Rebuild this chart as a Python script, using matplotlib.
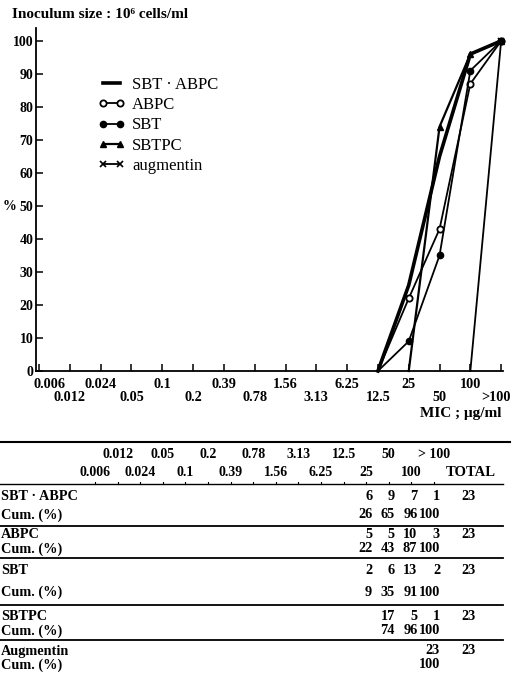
import matplotlib
matplotlib.use("Agg")
import matplotlib.pyplot as plt
import matplotlib.transforms as mtrans
from matplotlib.lines import Line2D

plt.rcParams['font.family'] = ['Liberation Serif', 'DejaVu Serif']

# MIC steps (ug/ml), 16 columns
mic_labels = ["0.006", "0.012", "0.024", "0.05", "0.1", "0.2", "0.39", "0.78",
              "1.56", "3.13", "6.25", "12.5", "25", "50", "100", ">100"]

# per drug: first MIC column with strains, counts and cumulative %
sbt_abpc_start = 12
sbt_abpc_n = [6, 9, 7, 1]
sbt_abpc_cum = [26, 65, 96, 100]

abpc_start = 12
abpc_n = [5, 5, 10, 3]
abpc_cum = [22, 43, 87, 100]

sbt_start = 12
sbt_n = [2, 6, 13, 2]
sbt_cum = [9, 35, 91, 100]

sbtpc_start = 13
sbtpc_n = [17, 5, 1]
sbtpc_cum = [74, 96, 100]

aug_start = 15
aug_n = [23]
aug_cum = [100]

totals = [23, 23, 23, 23, 23]
table_names = ["SBT \u00b7 ABPC", "ABPC", "SBT", "SBTPC", "Augmentin"]
legend_names = ["SBT \u00b7 ABPC", "ABPC", "SBT", "SBTPC", "augmentin"]

W, H = 512, 685
fig = plt.figure(figsize=(W / 100, H / 100), dpi=100)


def fx(px):
    return px / W


def fy(py):
    return 1 - py / H


# ---------------- chart ----------------
ax = fig.add_axes([fx(36), fy(371), fx(503) - fx(36), fy(28) - fy(371)])
ax.set_xlim(-0.1, 15.06)
ax.set_ylim(0, 103.9)
ax.spines['top'].set_visible(False)
ax.spines['right'].set_visible(False)
ax.spines['left'].set_linewidth(1.3)
ax.spines['bottom'].set_linewidth(1.3)


def curve(start, cum):
    xs = [start - 1] + list(range(start, start + len(cum)))
    ys = [0] + cum
    return xs, ys


series = [
    (sbt_abpc_start, sbt_abpc_cum, dict(lw=2.6, marker=None)),
    (abpc_start, abpc_cum, dict(lw=1.3, marker='o', mfc='white', ms=4.5, mew=1.3)),
    (sbt_start, sbt_cum, dict(lw=1.3, marker='o', mfc='black', ms=4.5)),
    (sbtpc_start, sbtpc_cum, dict(lw=1.6, marker='^', mfc='black', ms=4.5)),
    (aug_start, aug_cum, dict(lw=1.3, marker='x', ms=4, mew=1.2)),
]
handles = []
for start, cum, style in series:
    xs, ys = curve(start, cum)
    ln, = ax.plot(xs, ys, color='black', markevery=list(range(1, len(xs))),
                  clip_on=False, **style)
    handles.append(ln)

ax.legend(handles, legend_names, loc='upper left', bbox_to_anchor=(0.133, 0.857),
          frameon=False, numpoints=2, handlelength=1.6, handletextpad=0.45,
          labelspacing=0.25, borderpad=0, borderaxespad=0,
          prop={'family': 'Liberation Serif', 'size': 12})

ax.set_yticks(range(0, 101, 10))
ax.set_yticklabels([str(v) for v in range(0, 101, 10)], fontweight='bold', fontsize=10)
ax.tick_params(axis='y', direction='in', length=5, width=1.1, pad=2)
ax.set_xticks(range(16))
ax.set_xticklabels(mic_labels, fontweight='bold', fontsize=10.3)
ax.tick_params(axis='x', direction='in', length=5, width=1.1, pad=5)
# stagger the labels on two rows, keep the first one off the y axis
for i, lab in enumerate(ax.get_xticklabels()):
    dx, dy = 0, 0
    if i % 2 == 1:
        dy = -0.135
    if i == 0:
        dx = 0.1
    if i == 15:
        dx = -0.05
    lab.set_transform(lab.get_transform() + mtrans.ScaledTranslation(dx, dy, fig.dpi_scale_trans))

fig.text(fx(3), fy(206), "%", fontsize=10, fontweight='bold', va='center', ha='left')
fig.text(fx(502), fy(414), "MIC ; \u03bcg/ml", fontsize=11, fontweight='bold',
         va='center', ha='right')
fig.text(fx(12), fy(14), "Inoculum size : 10\u2076 cells/ml", fontsize=11,
         fontweight='bold', va='center', ha='left')

# ---------------- table ----------------
col_x = [95 + 22.6 * i for i in range(16)]
for i, lab in enumerate(mic_labels):
    yy = 455 if i % 2 == 1 else 472
    txt = lab.replace(">", "> ")
    fig.text(fx(col_x[i]), fy(yy), txt, fontsize=10, fontweight='bold',
             ha='center', va='center')
fig.text(fx(471), fy(472), "TOTAL", fontsize=10.5, fontweight='bold', ha='center', va='center')


def hline(y, x0=0, x1=503, lw=1.3):
    fig.add_artist(Line2D([fx(x0), fx(x1)], [fy(y), fy(y)], color='black', lw=lw))


hline(442, x1=510, lw=1.5)
hline(484, lw=1.0)
for cx in col_x:
    fig.add_artist(Line2D([fx(cx), fx(cx)], [fy(484), fy(481.5)], color='black', lw=0.8))

rows_n = [sbt_abpc_n, abpc_n, sbt_n, sbtpc_n, aug_n]
rows_cum = [sbt_abpc_cum, abpc_cum, sbt_cum, sbtpc_cum, aug_cum]
starts = [sbt_abpc_start, abpc_start, sbt_start, sbtpc_start, aug_start]
name_y = [497, 535, 571, 616, 651]
cum_y = [515, 549, 592, 631, 665]
sep_y = [526, 558, 605, 640]
fs = 10.3

for k in range(5):
    fig.text(fx(1), fy(name_y[k]), table_names[k], fontsize=fs, fontweight='bold',
             ha='left', va='center')
    fig.text(fx(1), fy(cum_y[k]), "Cum. (%)", fontsize=fs, fontweight='bold',
             ha='left', va='center')
    for j, (n, c) in enumerate(zip(rows_n[k], rows_cum[k])):
        cx = col_x[starts[k] + j] + 6
        fig.text(fx(cx), fy(name_y[k]), str(n), fontsize=fs, fontweight='bold',
                 ha='right', va='center')
        fig.text(fx(cx), fy(cum_y[k]), str(c), fontsize=fs, fontweight='bold',
                 ha='right', va='center')
    fig.text(fx(469), fy(name_y[k]), str(totals[k]), fontsize=fs, fontweight='bold',
             ha='center', va='center')
    if k < 4:
        hline(sep_y[k])

fig.savefig("out.png", dpi=100)
